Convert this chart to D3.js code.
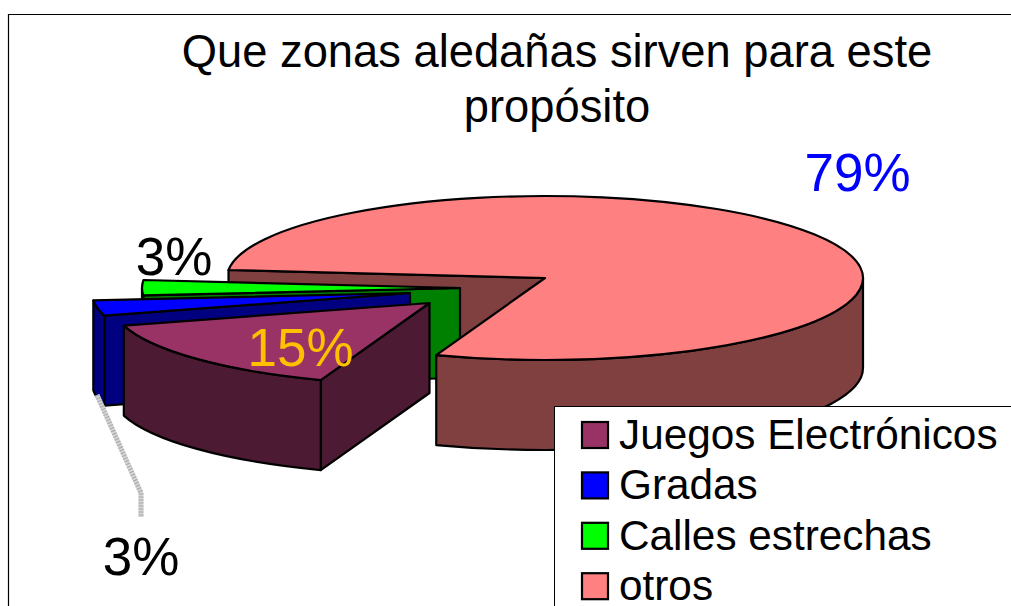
<!DOCTYPE html>
<html><head><meta charset="utf-8">
<script src="https://cdnjs.cloudflare.com/ajax/libs/d3/7.8.5/d3.min.js"></script>
<style>html,body{margin:0;padding:0;background:#fff;overflow:hidden}svg{display:block}text{font-family:"Liberation Sans",Arial,sans-serif}</style>
</head><body><div id="chart"></div>
<script>
// DATA
const categories = ["Juegos Electrónicos", "Gradas", "Calles estrechas", "otros"];
const values = [15, 3, 3, 79];
const percentLabels = ["15%", "3%", "3%", "79%"];
const titleLines = ["Que zonas aledañas sirven para este", "propósito"];

// STYLE / LAYOUT
const palette = ["#993366", "#0000FF", "#00FF00", "#FF8080"];
const labelColors = ["#FFC000", "#000000", "#000000", "#0000FF"];
const W = 1011, H = 606;
const center = {x: 545, y: 278}, rx = 318, ry = 82, depth = 90;
const shifts = [[-115.5, 25], [-135, 15], [-85, 10], [0, 0]];
const labelPos = [[300.5, 366], [141, 575], [174, 275], [857.5, 191]];

const deg = Math.PI / 180;
const svg = d3.select("#chart").append("svg").attr("width", W).attr("height", H);
svg.append("rect").attr("width", W).attr("height", H).attr("fill", "#fff");
svg.append("path").attr("d", `M8.5,${H}V14.5H${W}`).attr("fill", "none").attr("stroke", "#000").attr("stroke-width", 1.2);

const pie = d3.pie().sort(null).startAngle(200 * deg).endAngle(560 * deg);
const arcs = pie(values).map((d, i) => {
  const c = {x: center.x + shifts[i][0], y: center.y + shifts[i][1]};
  return {...d, i, c};
});
const pt = (d, a, z = 0) => [d.c.x + rx * Math.sin(a), d.c.y - ry * Math.cos(a) + z];
const fmt = p => p[0].toFixed(2) + "," + p[1].toFixed(2);

function topPath(d) {
  const large = d.endAngle - d.startAngle > Math.PI ? 1 : 0;
  return `M${fmt([d.c.x, d.c.y])}L${fmt(pt(d, d.startAngle))}A${rx},${ry} 0 ${large} 1 ${fmt(pt(d, d.endAngle))}Z`;
}
function startWall(d) {
  const a = [d.c.x, d.c.y], b = pt(d, d.startAngle);
  return `M${fmt(a)}L${fmt(b)}L${fmt([b[0], b[1] + depth])}L${fmt([a[0], a[1] + depth])}Z`;
}
function outerWall(d) {
  // the part of the rim on the viewer's side: 90°–270° (and one turn later)
  let out = "";
  [[90, 270], [450, 630]].forEach(([lo, hi]) => {
    const a0 = Math.max(d.startAngle, lo * deg), a1 = Math.min(d.endAngle, hi * deg);
    if (a1 <= a0) return;
    const p0 = pt(d, a0), p1 = pt(d, a1), p2 = pt(d, a1, depth), p3 = pt(d, a0, depth);
    out += `M${fmt(p0)}A${rx},${ry} 0 0 1 ${fmt(p1)}L${fmt(p2)}A${rx},${ry} 0 0 0 ${fmt(p3)}Z`;
  });
  return out;
}
const wallColor = c => { const k = d3.rgb(c); return d3.rgb(k.r / 2, k.g / 2, k.b / 2).formatHex(); };

// paint order: the big slice's inner wall sits behind the small slices,
// its rim and top sit in front of them, and Juegos comes last.
const big = arcs[3];
const styled = sel => sel.attr("stroke", "#000").attr("stroke-width", 2.2).attr("stroke-linejoin", "round");
const drawParts = (d, parts) => {
  const g = styled(svg.append("g").datum(d));
  parts.forEach(([fn, colorFn]) => g.append("path").attr("d", fn).attr("fill", colorFn(palette[d.i])));
};
const same = c => c;
drawParts(big, [[startWall, wallColor]]);
[arcs[2], arcs[1]].forEach(d => drawParts(d, [[startWall, wallColor], [outerWall, wallColor], [topPath, same]]));
drawParts(big, [[outerWall, wallColor], [topPath, same]]);
drawParts(arcs[0], [[startWall, wallColor], [outerWall, wallColor], [topPath, same]]);

// title
svg.selectAll("text.title").data(titleLines).join("text").attr("class", "title")
  .attr("x", 557).attr("y", (d, i) => 67 + i * 55).attr("text-anchor", "middle")
  .attr("font-size", 45.3).attr("fill", "#000").text(d => d);

// leader line
const leader = "M97,395L141,493V517";
svg.append("path").attr("d", leader).attr("fill", "none").attr("stroke", "#d4d4d4").attr("stroke-width", 5);
svg.append("path").attr("d", leader).attr("fill", "none").attr("stroke", "#a8a8a8").attr("stroke-width", 5).attr("stroke-dasharray", "1 2");

// percent labels
svg.selectAll("text.pct").data(percentLabels).join("text").attr("class", "pct")
  .attr("x", (d, i) => labelPos[i][0]).attr("y", (d, i) => labelPos[i][1])
  .attr("text-anchor", "middle").attr("font-size", 53)
  .attr("fill", (d, i) => labelColors[i]).text(d => d);

// legend
const lg = svg.append("g");
lg.append("rect").attr("x", 554.5).attr("y", 406.5).attr("width", 500).attr("height", 300)
  .attr("fill", "#fff").attr("stroke", "#000").attr("stroke-width", 1);
const rows = lg.selectAll("g").data(categories).join("g")
  .attr("transform", (d, i) => `translate(0,${i * 50.4})`);
rows.append("rect").attr("x", 582).attr("y", 422).attr("width", 26).attr("height", 26)
  .attr("fill", (d, i) => palette[i]).attr("stroke", "#000").attr("stroke-width", 2.2);
rows.append("text").attr("x", 619).attr("y", 449).attr("font-size", 42.3).attr("fill", "#000").text(d => d);
</script></body></html>
